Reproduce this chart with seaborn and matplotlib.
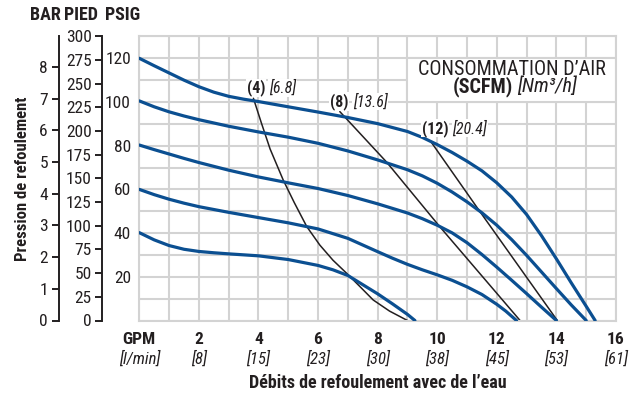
import pandas as pd
import matplotlib
matplotlib.use("Agg")
import matplotlib.pyplot as plt
from matplotlib import font_manager as fm
from matplotlib.patches import Rectangle
import seaborn as sns

sns.set_style("white")

# pick a narrow sans face when one is installed
_faces = fm.fontManager.ttflist
_names = {f.name for f in _faces}
_narrow = [n for n in ("Liberation Sans Narrow", "Roboto Condensed", "Noto Sans Condensed",
                       "Open Sans Condensed", "Arial Narrow") if n in _names]
_condensed = [f.name for f in _faces if str(f.stretch) in ("condensed", "semi-condensed")]
if _narrow:
    plt.rcParams["font.family"] = [_narrow[0], "DejaVu Sans"]
    FS = 1.0
elif _condensed:
    plt.rcParams["font.family"] = [_condensed[0], "DejaVu Sans"]
    plt.rcParams["font.stretch"] = "condensed"
    FS = 1.0
else:
    plt.rcParams["font.family"] = ["Liberation Sans", "DejaVu Sans"]
    FS = 0.88

# Pump curves: discharge pressure (psig) vs flow (gpm) for each inlet air pressure
gpm_120 = [0, 0.5, 1, 1.5, 2, 2.5, 3, 3.5, 4, 5, 6, 7, 8, 9, 9.5, 10, 10.5, 11, 11.5, 12, 12.5, 13, 13.5, 14, 14.5, 15, 15.3]
psi_120 = [120, 116.6, 113.3, 110, 107, 104.5, 102.6, 101.3, 100.2, 97.8, 95.4, 92.9, 90.1, 86.5, 83.8, 80.5, 76.9, 72.9, 68.5, 63, 56.5, 48.5, 38.8, 28.2, 17.2, 6.5, 0]

gpm_100 = [0, 0.5, 1, 1.5, 2, 3, 4, 5, 6, 7, 8, 9, 9.5, 10, 10.5, 11, 11.5, 12, 12.5, 13, 13.5, 14, 14.5, 15.0]
psi_100 = [100.5, 97.8, 95.5, 93.6, 91.9, 88.9, 86.3, 83.9, 81.1, 77.6, 73.5, 69, 66.2, 62.8, 58.8, 54.3, 49.3, 43.6, 37, 29.8, 22.2, 14.6, 7.1, 0]

gpm_80 = [0, 0.5, 1, 1.5, 2, 3, 4, 5, 6, 7, 8, 9, 9.5, 10, 10.5, 11, 11.5, 12, 12.5, 13, 13.5, 14.0]
psi_80 = [80.3, 78.2, 76.2, 74.2, 72.3, 68.8, 65.7, 63, 60.4, 57.2, 53.4, 49.2, 46.6, 43.6, 40.1, 35.6, 30.2, 24.4, 18.4, 12.3, 6.1, 0]

gpm_60 = [0, 0.5, 1, 1.5, 2, 3, 4, 5, 6, 7, 8, 8.5, 9, 9.5, 10, 10.5, 11, 11.5, 12, 12.3, 12.66]
psi_60 = [60, 57.6, 55.5, 53.7, 52.1, 49.5, 47.1, 44.7, 41.9, 37.6, 31.5, 28.5, 25.7, 23.2, 20.9, 18.4, 15.4, 11.9, 7.4, 4.3, 0]

gpm_40 = [0, 0.5, 1, 1.5, 2, 2.5, 3, 4, 5, 6, 6.5, 7, 7.5, 8, 8.5, 9, 9.25]
psi_40 = [40.2, 36.9, 34.3, 32.6, 31.6, 31, 30.5, 29.6, 27.9, 25.2, 23.2, 20.6, 16.4, 12.2, 7.6, 2.8, 0]

# Air consumption lines (SCFM)
gpm_air4 = [3.83, 4.1, 4.39, 4.83, 5.2, 5.62, 6.06, 6.5, 6.96, 7.4, 7.85, 8.4, 9.0]
psi_air4 = [101.7, 90.3, 78.5, 64.3, 54, 43, 34.5, 27.6, 21.6, 15.6, 9.4, 4.3, 0]
gpm_air8 = [6.73, 8.3, 10.1, 12.78]
psi_air8 = [95.6, 72.5, 42.7, 0]
gpm_air12 = [9.8, 11.45, 14.03]
psi_air12 = [81.6, 49.5, 0]

air_scfm = ["(4)", "(8)", "(12)"]
air_nm3h = ["[6.8]", "[13.6]", "[20.4]"]

# Axis ticks
gpm_ticks = [0, 2, 4, 6, 8, 10, 12, 14, 16]
gpm_labels = ["GPM", "2", "4", "6", "8", "10", "12", "14", "16"]
lpm_labels = ["[l/min]", "[8]", "[15]", "[23]", "[30]", "[38]", "[45]", "[53]", "[61]"]
psig_ticks = [20, 40, 60, 80, 100, 120]
pied_ticks = [0, 25, 50, 75, 100, 125, 150, 175, 200, 225, 250, 275, 300]
bar_ticks = [0, 1, 2, 3, 4, 5, 6, 7, 8]

BLUE = "#0b4f91"
INK = "#231f20"
GRID = "#d3d3d3"
FT_PER_PSI = 2.307
BAR_PER_PSI = 1 / 14.5038
YMAX = 130

curves = pd.concat([
    pd.DataFrame({"gpm": g, "psig": p, "courbe": name})
    for name, g, p in [("120", gpm_120, psi_120), ("100", gpm_100, psi_100),
                       ("80", gpm_80, psi_80), ("60", gpm_60, psi_60),
                       ("40", gpm_40, psi_40)]
])
air = pd.concat([
    pd.DataFrame({"gpm": g, "psig": p, "scfm": name})
    for name, g, p in [("4", gpm_air4, psi_air4), ("8", gpm_air8, psi_air8),
                       ("12", gpm_air12, psi_air12)]
])

fig = plt.figure(figsize=(6.38, 3.98), dpi=100)
W, H = 638, 398
x0, x1, ytop, ybot = 139.3, 616.0, 36.45, 320.5
ax = fig.add_axes([x0 / W, 1 - ybot / H, (x1 - x0) / W, (ybot - ytop) / H])

ax.set_xlim(0, 16)
ax.set_ylim(0, YMAX)
ax.set_xticks(range(0, 17))
ax.set_yticks(range(0, YMAX + 1, 10))
ax.grid(True, color=GRID, linewidth=1.5, zorder=0)
ax.set_axisbelow(True)
for s in ax.spines.values():
    s.set_color(GRID)
    s.set_linewidth(1.5)

# PSIG labels on the grid's left side
ax.set_yticklabels([str(v) if v in psig_ticks else "" for v in range(0, YMAX + 1, 10)])
ax.tick_params(axis="y", length=0, pad=6, labelsize=12.5 * FS, labelcolor=INK)

# bold GPM labels
ax.set_xticklabels([gpm_labels[gpm_ticks.index(v)] if v in gpm_ticks else "" for v in range(0, 17)],
                   fontweight="bold")
ax.tick_params(axis="x", length=0, pad=8, labelsize=12.5 * FS, labelcolor=INK)

# italic l/min labels underneath
sec = ax.secondary_xaxis("bottom")
sec.set_xticks(gpm_ticks)
sec.set_xticklabels(lpm_labels, fontstyle="italic")
sec.tick_params(axis="x", length=0, pad=21.5, labelsize=12 * FS, labelcolor=INK)
sec.spines["bottom"].set_visible(False)

sns.lineplot(data=curves, x="gpm", y="psig", units="courbe", estimator=None,
             color=BLUE, linewidth=2.3, ax=ax, zorder=3)
sns.lineplot(data=air, x="gpm", y="psig", units="scfm", estimator=None,
             color=INK, linewidth=1.1, ax=ax, zorder=2)
ax.set_xlabel("")
ax.set_ylabel("")

# legend box
ax.add_patch(Rectangle((9, 100), 7, 20, facecolor="white", edgecolor=GRID,
                       linewidth=1.5, zorder=1.5))
ax.text(12.5, 115.0, "CONSOMMATION D\u2019AIR", ha="center", va="center",
        fontsize=14.5 * FS, color=INK, zorder=4)
scfm = ax.text(12.55, 107.0, "(SCFM)", ha="right", va="center", fontsize=14.5 * FS,
               fontweight="bold", color=INK, zorder=4)
ax.annotate("[Nm\u00b3/h]", xy=(1, 0.5), xycoords=scfm, xytext=(3, 0),
            textcoords="offset points", ha="left", va="center", fontsize=14.5 * FS,
            fontstyle="italic", color=INK, zorder=4)

# air consumption labels
air_label_pos = [(3.6, 106.4), (6.4, 100.2), (9.48, 88.0)]
box = dict(facecolor="white", edgecolor="none", pad=0.6)
for (xa, yy), s, n in zip(air_label_pos, air_scfm, air_nm3h):
    t = ax.text(xa, yy, s, ha="left", va="center", fontsize=11.5 * FS,
                fontweight="bold", color=INK, bbox=box, zorder=4)
    ax.annotate(n, xy=(1, 0.5), xycoords=t, xytext=(3, 0), textcoords="offset points",
                ha="left", va="center", fontsize=11.5 * FS, fontstyle="italic",
                color=INK, bbox=box, zorder=4)

# PIED axis
ax_ft = ax.twinx()
ax_ft.set_ylim(0, YMAX * FT_PER_PSI)
ax_ft.yaxis.set_ticks_position("left")
ax_ft.yaxis.set_label_position("left")
for k in ("right", "top", "bottom"):
    ax_ft.spines[k].set_visible(False)
ax_ft.spines["left"].set_position(("outward", 37.3 * 0.72))
ax_ft.spines["left"].set_color(INK)
ax_ft.spines["left"].set_linewidth(1.4)
ax_ft.set_yticks(pied_ticks)
ax_ft.tick_params(axis="y", length=5, width=1.4, pad=2.5, labelsize=12.5 * FS,
                  color=INK, labelcolor=INK)
ax_ft.grid(False)

# BAR axis
ax_bar = ax.twinx()
ax_bar.set_ylim(0, YMAX * BAR_PER_PSI)
ax_bar.yaxis.set_ticks_position("left")
ax_bar.yaxis.set_label_position("left")
for k in ("right", "top", "bottom"):
    ax_bar.spines[k].set_visible(False)
ax_bar.spines["left"].set_position(("outward", 80.3 * 0.72))
ax_bar.spines["left"].set_color(INK)
ax_bar.spines["left"].set_linewidth(1.4)
ax_bar.set_yticks(bar_ticks)
ax_bar.tick_params(axis="y", length=5, width=1.4, pad=3, labelsize=12.5 * FS,
                   color=INK, labelcolor=INK)
ax_bar.grid(False)

# unit headers
for txt, xc in [("BAR", 45), ("PIED", 81), ("PSIG", 122.5)]:
    fig.text(xc / W, 1 - 15 / H, txt, ha="center", va="center",
             fontsize=13 * FS, fontweight="bold", color=INK)

fig.text(22.5 / W, 1 - 178.5 / H, "Pression de refoulement", rotation=90,
         ha="center", va="center", fontsize=12 * FS, fontweight="bold", color=INK)
fig.text(378 / W, 1 - 383 / H, "D\u00e9bits de refoulement avec de l\u2019eau",
         ha="center", va="center", fontsize=13 * FS, fontweight="bold", color=INK)

fig.savefig("out.png", dpi=100)
